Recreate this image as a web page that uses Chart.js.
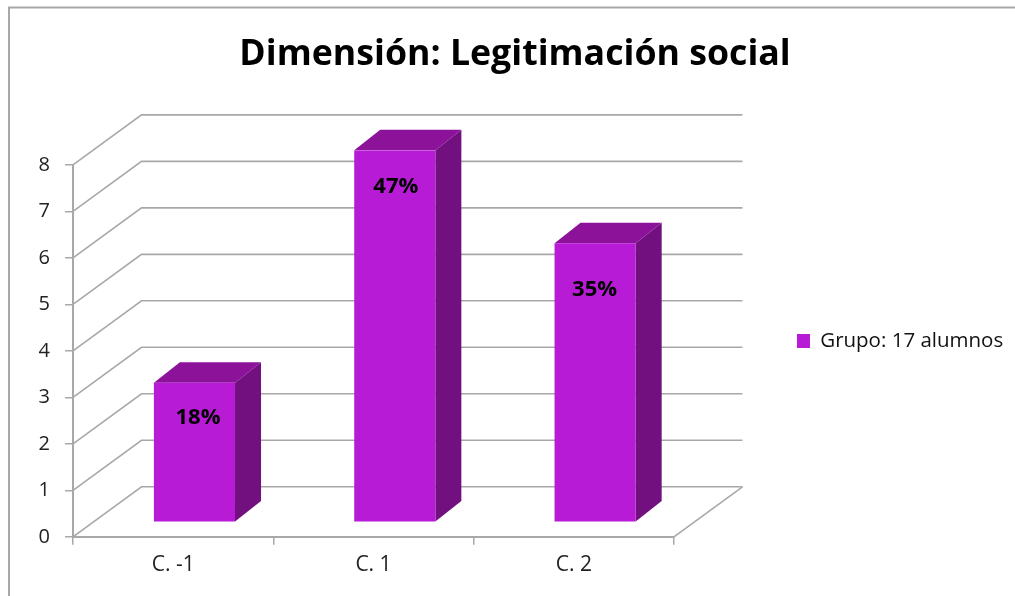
<!DOCTYPE html>
<html><head><meta charset="utf-8">
<style>html,body{margin:0;padding:0;background:#fff}#w{position:absolute;left:0;top:0;width:1015px;height:596px}canvas{filter:blur(0.45px)}</style>
<script src="https://cdn.jsdelivr.net/npm/chart.js@4"></script></head>
<body><div id="w"><canvas id="c" width="1015" height="596"></canvas></div>
<script>
const titleText = 'Dimensión: Legitimación social';
const categories = ['C. -1', 'C. 1', 'C. 2'];
const seriesName = 'Grupo: 17 alumnos';
const values = [3, 8, 6];
const percentLabels = ['18%', '47%', '35%'];
const labelDrop = [35, 36, 46];
const labelShift = [3.5, 1, -0.5];

const GRID = '#a8a8a8', FRONT = '#b81bd6', TOP = '#8c1399', SIDE = '#721080';
const WALL = {dx: 68.5, dy: -50};
const BAR = {dx: 21.3, dy: -14.5};
const DEPTH = {dx: 26, dy: -20.5};
const FONT = '"Open Sans", sans-serif';

const frame = {
  id: 'frame',
  beforeDraw(chart) {
    const c = chart.ctx, a = chart.chartArea, ys = chart.scales.y;
    c.save();
    c.strokeStyle = GRID; c.lineWidth = 2;
    c.beginPath(); c.moveTo(9, 600); c.lineTo(9, 7.5); c.lineTo(1020, 7.5); c.stroke();
    c.lineWidth = 1.6; c.strokeStyle = GRID;
    ys.ticks.forEach(t => {
      const y = ys.getPixelForValue(t.value);
      c.beginPath();
      c.moveTo(a.left, y);
      c.lineTo(a.left + WALL.dx, y + WALL.dy);
      c.lineTo(a.right + WALL.dx, y + WALL.dy);
      c.stroke();
    });
    c.beginPath();
    c.moveTo(a.right, a.bottom);
    c.lineTo(a.right + WALL.dx, a.bottom + WALL.dy);
    c.stroke();
    c.restore();
  }
};
const bars3d = {
  id: 'bars3d',
  beforeDatasetDraw(chart) {
    const c = chart.ctx;
    c.save();
    c.translate(BAR.dx, BAR.dy);
    chart.getDatasetMeta(0).data.forEach(b => {
      const l = b.x - b.width / 2, r = b.x + b.width / 2, t = b.y, bt = b.base;
      c.fillStyle = TOP;
      c.beginPath(); c.moveTo(l, t); c.lineTo(l + DEPTH.dx, t + DEPTH.dy);
      c.lineTo(r + DEPTH.dx, t + DEPTH.dy); c.lineTo(r, t); c.closePath(); c.fill();
      c.fillStyle = SIDE;
      c.beginPath(); c.moveTo(r, t); c.lineTo(r + DEPTH.dx, t + DEPTH.dy);
      c.lineTo(r + DEPTH.dx, bt + DEPTH.dy); c.lineTo(r, bt); c.closePath(); c.fill();
    });
  },
  afterDatasetDraw(chart) {
    const c = chart.ctx;
    c.restore();
    c.save();
    c.fillStyle = '#000'; c.font = 'bold 22px ' + FONT;
    c.textAlign = 'center'; c.textBaseline = 'middle';
    chart.getDatasetMeta(0).data.forEach((b, i) => {
      c.fillText(percentLabels[i], b.x + BAR.dx + labelShift[i], b.y + BAR.dy + labelDrop[i]);
    });
    c.restore();
  },
  afterLayout(chart) {
    const l = chart.legend, t = chart.titleBlock;
    l.left += 20.5; l.right = chart.width;
    l.top += 31.5; l.bottom += 31.5;
    t.left += 60.4; t.right += 60.4;
  }
};

new Chart(document.getElementById('c'), {
  type: 'bar',
  data: {labels: categories, datasets: [{label: seriesName, data: values, backgroundColor: FRONT,
    barPercentage: 0.405, categoryPercentage: 1}]},
  plugins: [frame, bars3d],
  options: {
    responsive: false, animation: false,
    layout: {padding: {left: 16, right: 121.7, top: 33, bottom: 10}},
    plugins: {
      tooltip: {enabled: false},
      title: {display: true, text: titleText, color: '#000', font: {family: FONT, size: 35.7, weight: 'bold'}, padding: {top: 0, bottom: 89}},
      legend: {position: 'right', align: 'center',
        labels: {boxWidth: 13, boxHeight: 14, padding: 102.5, color: '#111', font: {family: FONT, size: 20.5}}}
    },
    scales: {
      x: {grid: {drawOnChartArea: false, offset: true, tickLength: 8, color: GRID, lineWidth: 1.5},
        border: {color: GRID, width: 2},
        ticks: {color: '#222', padding: 8, font: {family: FONT, size: 21}, maxRotation: 0}},
      y: {min: 0, max: 8, afterFit(s) { s.width = 57; },
        grid: {drawOnChartArea: false, tickLength: 8, color: GRID, lineWidth: 1.5},
        border: {color: GRID, width: 2},
        ticks: {stepSize: 1, color: '#222', padding: 15, font: {family: FONT, size: 20}}}
    }
  }
});
</script></body></html>
